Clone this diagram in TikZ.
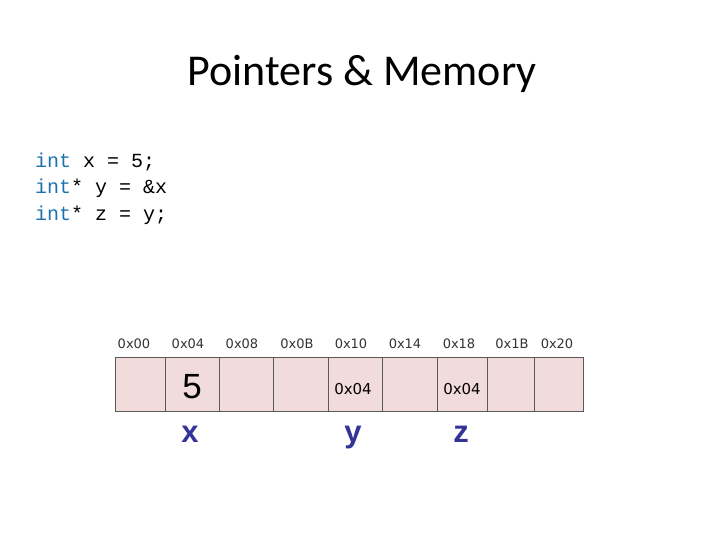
\documentclass[tikz,border=0pt]{standalone}
\usepackage{fontspec}
\setmainfont{Carlito}
\newfontfamily\codefont{Liberation Mono}
\newfontfamily\arialfont{Liberation Sans}
\newfontfamily\addrfont{DejaVu Sans}
\definecolor{cellpink}{RGB}{242,220,219}
\definecolor{cellline}{RGB}{90,90,90}
\definecolor{varblue}{RGB}{51,51,153}
\definecolor{kwblue}{RGB}{30,115,175}
\begin{document}
\begin{tikzpicture}[x=1pt,y=-1pt,
    addr/.style={anchor=base,font=\addrfont\fontsize{13}{15}\selectfont,text=black!80},
    ptr/.style={anchor=base,font=\addrfont\fontsize{15}{17}\selectfont},
    var/.style={anchor=base,font=\arialfont\bfseries\fontsize{31}{33}\selectfont,text=varblue},
    code/.style={anchor=west,inner sep=0pt,font=\codefont\fontsize{20}{22}\selectfont}]
  \useasboundingbox (0,0) rectangle (720,540);
  \node[font=\fontsize{44}{47}\selectfont] (title) at (362,74) {Pointers \& Memory};
  % code
  \node[code] (line1) at (35,162) {\textcolor{kwblue}{int} x = 5;};
  \node[code] (line2) at (35,188) {\textcolor{kwblue}{int}* y = \&x};
  \node[code] (line3) at (35,215) {\textcolor{kwblue}{int}* z = y;};
  % memory cells
  \draw[cellline,fill=cellpink] (115,357) rectangle (583,411);
  \draw[cellline] (165,357)--(165,411) (219,357)--(219,411)
    (273,357)--(273,411) (328,357)--(328,411) (382,357)--(382,411)
    (437,357)--(437,411) (487,357)--(487,411) (534,357)--(534,411);
  % addresses
  \node[addr] (a0) at (134,348) {0x00};
  \node[addr] (a1) at (188,348) {0x04};
  \node[addr] (a2) at (242,348) {0x08};
  \node[addr] (a3) at (297,348) {0x0B};
  \node[addr] (a4) at (351,348) {0x10};
  \node[addr] (a5) at (405,348) {0x14};
  \node[addr] (a6) at (459,348) {0x18};
  \node[addr] (a7) at (512,348) {0x1B};
  \node[addr] (a8) at (557,348) {0x20};
  % values
  \node[anchor=base,font=\arialfont\fontsize{35}{37}\selectfont] (val5) at (192,398) {5};
  \node[ptr] (valy) at (353,394) {0x04};
  \node[ptr] (valz) at (462,394) {0x04};
  % names
  \node[var] (vx) at (190,442) {x};
  \node[var] (vy) at (353,442) {y};
  \node[var] (vz) at (461,442) {z};
\end{tikzpicture}
\end{document}
